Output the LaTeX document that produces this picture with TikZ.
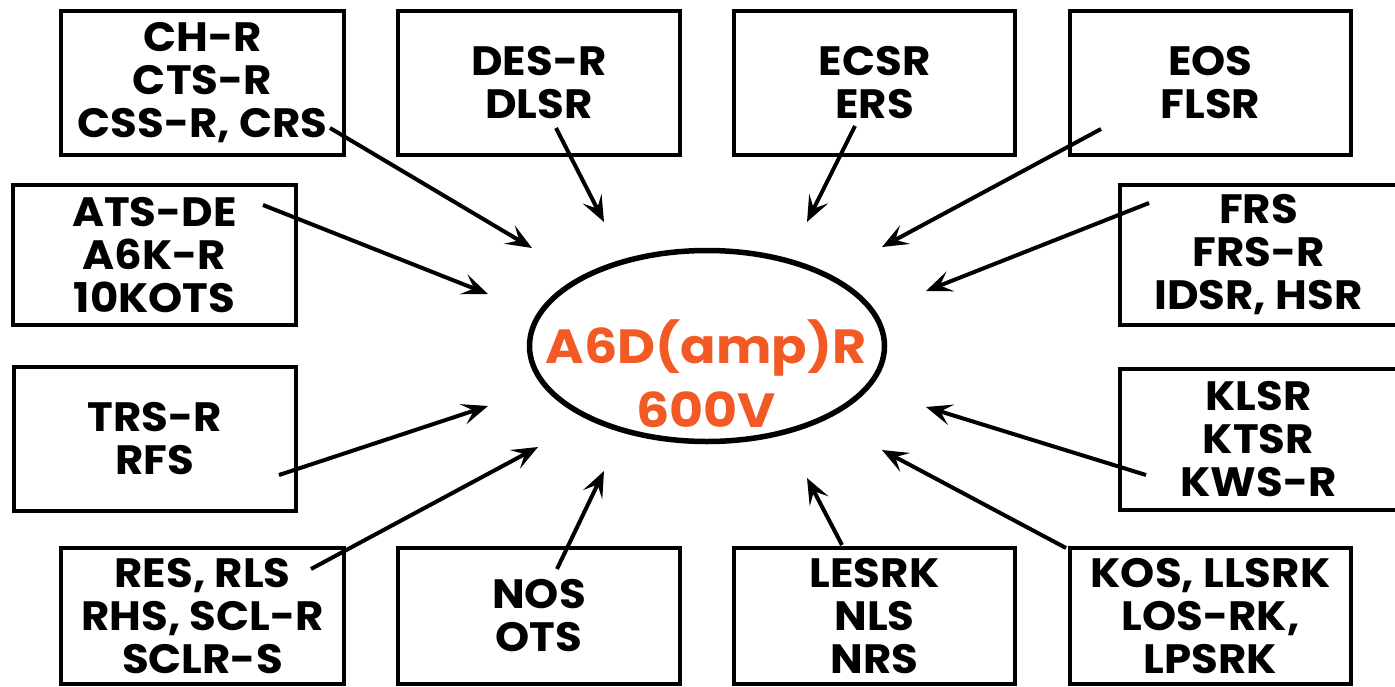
\documentclass[tikz,border=0pt]{standalone}
\usepackage{fontspec}
\setmainfont{Poppins}[FakeStretch=1.06]
\newfontfamily\hubfont{Poppins}[FakeStretch=1.09]
\usetikzlibrary{arrows.meta,shapes.geometric}
\definecolor{hub}{RGB}{241,90,36}
\tikzset{
  box/.style={draw=black, line width=4pt, rectangle, inner sep=0pt, align=center,
    font={\bfseries\fontsize{41}{43}\selectfont}},
  hubshape/.style={draw=black, line width=5.5pt, ellipse, inner sep=0pt},
  hubtext/.style={text=hub, align=center, inner sep=0pt, font={\hubfont\bfseries\fontsize{48}{64}\selectfont}},
  arr/.style={line width=4pt, -{Stealth[length=26pt,width=21pt,inset=11pt]}}
}
\newcommand{\boxat}[6]{% name, x1,y1,x2,y2, text
  \node[box, minimum width={#4-#2}, minimum height={#5-#3}] (#1) at ({(#2+#4)/2},{(#3+#5)/2+2}) {#6};}
\begin{document}
\begin{tikzpicture}[x=1pt,y=-1pt]
\useasboundingbox (0,0) rectangle (1395,686);
\begin{scope}
\clip (0,0) rectangle (1395,686);
\boxat{b1}{61}{9}{344}{153}{CH-R\\CTS-R\\CSS-R, CRS}
\boxat{b2}{398}{9}{680}{153}{DES-R\\DLSR}
\boxat{b3}{734}{9}{1015}{153}{ECSR\\ERS}
\boxat{b4}{1070}{9}{1351}{153}{EOS\\FLSR}
\boxat{b5}{13}{183}{296}{323}{ATS-DE\\A6K-R\\10KOTS}
\boxat{b6}{1120}{183}{1397}{323}{FRS\\FRS-R\\IDSR, HSR}
\boxat{b7}{14}{365}{296}{509}{TRS-R\\RFS}
\boxat{b8}{1120}{367}{1397}{508}{KLSR\\KTSR\\KWS-R}
\boxat{b9}{61}{546}{344}{682}{RES, RLS\\RHS, SCL-R\\SCLR-S}
\boxat{b10}{398}{546}{680}{682}{NOS\\OTS}
\boxat{b11}{734}{546}{1015}{682}{LESRK\\NLS\\NRS}
\boxat{b12}{1070}{546}{1351}{682}{KOS, LLSRK\\LOS-RK,\\LPSRK}
\end{scope}

\node[hubshape, minimum width=355pt, minimum height=191pt] (hub) at (707,346) {};
\node[hubtext] (hubt) at (706,374) {A6D(amp)R\\600V};

\coordinate (s1) at (330,128);  \coordinate (t1) at (532,248);
\coordinate (s2) at (556,128);  \coordinate (t2) at (604,222);
\coordinate (s3) at (855,126);  \coordinate (t3) at (807,222);
\coordinate (s4) at (1101,129); \coordinate (t4) at (882,247);
\coordinate (s5) at (263,205);  \coordinate (t5) at (488,294);
\coordinate (s6) at (1149,203); \coordinate (t6) at (926,291);
\coordinate (s7) at (279,475);  \coordinate (t7) at (488,406);
\coordinate (s8) at (1146,475); \coordinate (t8) at (926,407);
\coordinate (s9) at (311,569);  \coordinate (t9) at (538,447);
\coordinate (s10) at (557,569); \coordinate (t10) at (604,471);
\coordinate (s11) at (842,545); \coordinate (t11) at (807,478);
\coordinate (s12) at (1066,548);\coordinate (t12) at (882,450);
\foreach \i in {1,...,12} {\draw[arr] (s\i) -- (t\i);}
\end{tikzpicture}
\end{document}
